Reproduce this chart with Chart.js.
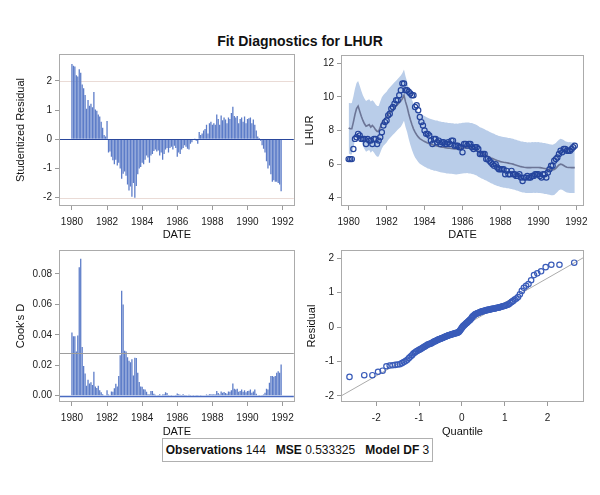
<!DOCTYPE html>
<html>
<head>
<meta charset="utf-8">
<script src="https://cdn.jsdelivr.net/npm/chart.js@4.4.1/dist/chart.umd.min.js"></script>
<style>
  body { margin: 0; background: #fff; font-family: "Liberation Sans", Arial, sans-serif; }
  #wrap { position: relative; width: 600px; height: 495px; }
  canvas { position: absolute; }
  #title { position: absolute; left: 0; top: 33px; width: 600px; text-align: center; font-weight: bold; font-size: 14px; color: #111; }
  #foot { position: absolute; left: 162px; top: 438px; width: 269px; height: 22px; border: 1px solid #b0b0b0;
          font-size: 12px; line-height: 22px; text-align: center; color: #111; white-space: nowrap; background: #fff; }
</style>
</head>
<body>
<div id="wrap">
  <div id="title">Fit Diagnostics for LHUR</div>
  <canvas id="c1" width="300" height="200" style="left:0;top:45px"></canvas>
  <canvas id="c2" width="300" height="200" style="left:300px;top:45px"></canvas>
  <canvas id="c3" width="300" height="200" style="left:0;top:241px"></canvas>
  <canvas id="c4" width="300" height="200" style="left:300px;top:241px"></canvas>
  <div id="foot"><b>Observations</b> 144&nbsp;&nbsp; <b>MSE</b> 0.533325&nbsp;&nbsp; <b>Model DF</b> 3</div>
</div>
<script>
// valores mensais, jan/1980 a dez/1991
const years = [1980, 1981, 1982, 1983, 1984, 1985, 1986, 1987, 1988, 1989, 1990, 1991];

const studRes = [
  2.58, 2.52, 2.50, 2.20, 2.15, 2.40, 2.28, 1.88, 1.75, 1.52, 1.05, 1.35,
  1.15, 1.22, 1.10, 1.62, 1.02, 0.98, 0.85, 0.78, 0.60, 0.40, 0.15, 0.10,
  0.63, -0.45, -0.42, -0.60, -0.72, -0.85, -0.70, -0.90, -0.80, -1.00, -1.35, -1.18,
  -1.10, -1.25, -1.55, -1.75, -1.62, -1.97, -1.50, -2.00, -1.60, -1.20, -1.00, -0.95,
  -0.80, -0.85, -0.70, -0.55, -0.62, -0.80, -0.55, -0.50, -0.40, -0.35, -0.42, -0.38,
  -0.55, -0.45, -0.70, -0.50, -0.35, -0.30, -0.45, -0.30, -0.25, -0.35, -0.22, -0.30,
  -0.60, -0.45, -0.50, -0.35, -0.30, -0.20, -0.25, -0.32, -0.35, -0.15, -0.10, 0.02,
  0.03, -0.05, -0.15, 0.25, 0.15, 0.20, 0.30, 0.35, 0.50, 0.20, 0.55, 0.60,
  0.50, 0.55, 0.50, 0.85, 0.70, 0.50, 0.82, 0.65, 0.75, 0.68, 0.55, 0.75,
  0.70, 0.90, 1.12, 0.80, 0.75, 0.80, 0.55, 0.70, 0.75, 0.60, 0.78, 0.55,
  0.70, 0.72, 0.75, 0.55, 0.68, 0.50, 0.30, 0.10, 0.05, -0.05, -0.20, -0.32,
  -0.45, -0.75, -1.00, -0.90, -1.20, -1.45, -1.40, -1.45, -1.45, -1.50, -1.55, -1.78
];

const lhur = [
  6.3, 6.3, 6.3, 6.9, 7.5, 7.6, 7.8, 7.7, 7.5, 7.5, 7.5, 7.2,
  7.5, 7.4, 7.4, 7.2, 7.5, 7.5, 7.2, 7.4, 7.6, 7.9, 8.3, 8.5,
  8.6, 8.9, 9.0, 9.3, 9.4, 9.6, 9.8, 9.8, 10.1, 10.4, 10.8, 10.8,
  10.4, 10.4, 10.3, 10.2, 10.1, 10.1, 9.4, 9.5, 9.2, 8.8, 8.5, 8.3,
  8.0, 7.8, 7.8, 7.7, 7.4, 7.2, 7.5, 7.5, 7.3, 7.4, 7.2, 7.3,
  7.3, 7.2, 7.2, 7.3, 7.2, 7.4, 7.4, 7.1, 7.1, 7.1, 7.0, 7.0,
  6.7, 7.2, 7.2, 7.1, 7.2, 7.2, 7.0, 6.9, 7.0, 7.0, 6.9, 6.6,
  6.6, 6.6, 6.6, 6.3, 6.3, 6.2, 6.1, 6.0, 5.9, 6.0, 5.8, 5.7,
  5.7, 5.7, 5.7, 5.4, 5.6, 5.4, 5.4, 5.6, 5.4, 5.4, 5.3, 5.3,
  5.4, 5.2, 5.0, 5.2, 5.2, 5.3, 5.2, 5.2, 5.3, 5.3, 5.4, 5.4,
  5.4, 5.3, 5.2, 5.4, 5.4, 5.2, 5.5, 5.7, 5.9, 5.9, 6.2, 6.3,
  6.4, 6.6, 6.8, 6.7, 6.9, 6.9, 6.8, 6.8, 6.8, 6.9, 7.0, 7.1
];

const predicted = [
  8.15, 8.10, 8.10, 8.50, 8.95, 9.30, 9.45, 9.15, 8.85, 8.60, 8.40, 8.25,
  8.30, 8.35, 8.20, 8.30, 8.20, 8.05, 7.95, 7.95, 8.20, 8.45, 8.60, 8.70,
  8.80, 8.95, 9.05, 9.15, 9.25, 9.35, 9.45, 9.55, 9.65, 9.75, 9.90, 10.10,
  9.70, 9.40, 9.00, 8.65, 8.35, 8.10, 7.90, 7.75, 7.62, 7.52, 7.46, 7.40,
  7.35, 7.30, 7.25, 7.22, 7.18, 7.15, 7.12, 7.10, 7.08, 7.05, 7.03, 7.00,
  7.00, 6.98, 6.96, 6.95, 6.94, 6.93, 6.92, 6.90, 6.90, 6.90, 6.92, 6.93,
  6.95, 6.96, 6.97, 6.97, 6.96, 6.95, 6.93, 6.90, 6.86, 6.82, 6.76, 6.70,
  6.66, 6.62, 6.57, 6.52, 6.47, 6.42, 6.37, 6.33, 6.29, 6.25, 6.21, 6.18,
  6.15, 6.13, 6.11, 6.10, 6.08, 6.06, 6.04, 6.02, 6.00, 5.97, 5.94, 5.91,
  5.88, 5.85, 5.83, 5.81, 5.80, 5.79, 5.79, 5.79, 5.80, 5.80, 5.80, 5.80,
  5.80, 5.79, 5.78, 5.76, 5.74, 5.72, 5.70, 5.68, 5.66, 5.65, 5.68, 5.75,
  5.85, 5.95, 6.00, 5.98, 5.92, 5.86, 5.82, 5.80, 5.80, 5.79, 5.79, 5.79
];

const upperCL = [
  9.65, 9.62, 9.63, 10.02, 10.48, 10.82, 10.95, 10.66, 10.36, 10.10, 9.90, 9.76,
  9.81, 9.86, 9.72, 9.80, 9.71, 9.56, 9.46, 9.45, 9.72, 9.97, 10.11, 10.22,
  10.31, 10.46, 10.56, 10.66, 10.76, 10.87, 10.96, 11.06, 11.16, 11.27, 11.42, 11.62,
  11.21, 10.90, 10.50, 10.14, 9.84, 9.60, 9.40, 9.24, 9.12, 9.02, 8.96, 8.90,
  8.86, 8.80, 8.76, 8.72, 8.69, 8.65, 8.63, 8.60, 8.59, 8.55, 8.54, 8.50,
  8.51, 8.48, 8.47, 8.45, 8.45, 8.43, 8.43, 8.40, 8.41, 8.40, 8.43, 8.43,
  8.46, 8.46, 8.48, 8.47, 8.47, 8.45, 8.44, 8.40, 8.37, 8.32, 8.27, 8.20,
  8.17, 8.12, 8.08, 8.02, 7.98, 7.92, 7.88, 7.83, 7.80, 7.75, 7.72, 7.68,
  7.66, 7.63, 7.62, 7.60, 7.59, 7.56, 7.55, 7.52, 7.51, 7.47, 7.45, 7.41,
  7.39, 7.35, 7.34, 7.31, 7.31, 7.29, 7.30, 7.29, 7.31, 7.30, 7.31, 7.30,
  7.31, 7.29, 7.29, 7.26, 7.25, 7.22, 7.21, 7.18, 7.17, 7.15, 7.19, 7.25,
  7.36, 7.45, 7.51, 7.48, 7.43, 7.36, 7.33, 7.30, 7.31, 7.29, 7.30, 7.29
];

const lowerCL = [
  6.65, 6.58, 6.57, 6.98, 7.42, 7.78, 7.95, 7.64, 7.34, 7.10, 6.90, 6.74,
  6.79, 6.84, 6.68, 6.80, 6.69, 6.54, 6.44, 6.45, 6.68, 6.93, 7.09, 7.18,
  7.29, 7.44, 7.54, 7.64, 7.74, 7.83, 7.94, 8.04, 8.14, 8.23, 8.38, 8.58,
  8.19, 7.90, 7.50, 7.16, 6.86, 6.60, 6.40, 6.26, 6.12, 6.02, 5.96, 5.90,
  5.84, 5.80, 5.74, 5.72, 5.67, 5.65, 5.61, 5.60, 5.57, 5.55, 5.52, 5.50,
  5.49, 5.48, 5.45, 5.45, 5.43, 5.43, 5.41, 5.40, 5.39, 5.40, 5.41, 5.43,
  5.44, 5.46, 5.46, 5.47, 5.45, 5.45, 5.42, 5.40, 5.35, 5.32, 5.25, 5.20,
  5.15, 5.12, 5.06, 5.02, 4.96, 4.92, 4.86, 4.83, 4.78, 4.75, 4.70, 4.68,
  4.64, 4.63, 4.60, 4.60, 4.57, 4.56, 4.53, 4.52, 4.49, 4.47, 4.43, 4.41,
  4.37, 4.35, 4.32, 4.31, 4.29, 4.29, 4.28, 4.29, 4.29, 4.30, 4.29, 4.30,
  4.29, 4.29, 4.27, 4.26, 4.23, 4.22, 4.19, 4.18, 4.15, 4.15, 4.17, 4.25,
  4.34, 4.45, 4.49, 4.48, 4.41, 4.36, 4.31, 4.30, 4.29, 4.29, 4.28, 4.29
];

const cooksD = [
  0.0415, 0.0390, 0.0390, 0.0290, 0.0395, 0.0845, 0.0900, 0.0320, 0.0195, 0.0145, 0.0065, 0.0105,
  0.0080, 0.0088, 0.0070, 0.0158, 0.0060, 0.0050, 0.0065, 0.0035, 0.0022, 0.0010, 0.0002, 0.0003,
  0.0035, 0.0008, 0.0003, 0.0028, 0.0025, 0.0048, 0.0078, 0.0060, 0.0130, 0.0265, 0.0690, 0.0600,
  0.0295, 0.0290, 0.0252, 0.0230, 0.0220, 0.0240, 0.0132, 0.0250, 0.0248, 0.0150, 0.0090, 0.0060,
  0.0058, 0.0042, 0.0040, 0.0025, 0.0010, 0.0008, 0.0030, 0.0030, 0.0012, 0.0006, 0.0002, 0.0004,
  0.0010, 0.0003, 0.0008, 0.0010, 0.0022, 0.0018, 0.0005, 0.0002, 0.0001, 0.0003, 0.0002, 0.0004,
  0.0015, 0.0010, 0.0006, 0.0004, 0.0010, 0.0004, 0.0001, 0.0002, 0.0006, 0.0001, 0.0000, 0.0001,
  0.0000, 0.0001, 0.0004, 0.0002, 0.0001, 0.0002, 0.0003, 0.0002, 0.0008, 0.0001, 0.0010, 0.0010,
  0.0008, 0.0010, 0.0008, 0.0030, 0.0018, 0.0008, 0.0028, 0.0020, 0.0024, 0.0018, 0.0012, 0.0028,
  0.0025, 0.0035, 0.0080, 0.0045, 0.0040, 0.0045, 0.0025, 0.0030, 0.0040, 0.0025, 0.0035, 0.0022,
  0.0030, 0.0032, 0.0040, 0.0020, 0.0028, 0.0040, 0.0012, 0.0002, 0.0001, 0.0000, 0.0004, 0.0008,
  0.0020, 0.0045, 0.0040, 0.0085, 0.0130, 0.0130, 0.0125, 0.0130, 0.0150, 0.0160, 0.0150, 0.0205
];
const cooksCutoff = 0.0278;

// quantis normais e resíduos ordenados (gráfico Q-Q)
const qqQuantile = [
  -2.625, -2.28, -2.09, -1.958, -1.851, -1.762, -1.686, -1.618, -1.557, -1.501, -1.449, -1.401,
  -1.356, -1.314, -1.274, -1.235, -1.199, -1.164, -1.131, -1.098, -1.067, -1.037, -1.007, -0.979,
  -0.951, -0.925, -0.898, -0.872, -0.847, -0.822, -0.799, -0.775, -0.751, -0.729, -0.706, -0.684,
  -0.662, -0.641, -0.619, -0.599, -0.578, -0.558, -0.538, -0.518, -0.498, -0.478, -0.459, -0.440,
  -0.420, -0.402, -0.383, -0.364, -0.346, -0.327, -0.309, -0.291, -0.273, -0.255, -0.237, -0.219,
  -0.201, -0.184, -0.166, -0.148, -0.131, -0.113, -0.096, -0.078, -0.061, -0.043, -0.026, -0.009,
  0.009, 0.026, 0.043, 0.061, 0.078, 0.096, 0.113, 0.131, 0.148, 0.166, 0.184, 0.201,
  0.219, 0.237, 0.255, 0.273, 0.291, 0.309, 0.327, 0.346, 0.364, 0.383, 0.402, 0.420,
  0.440, 0.459, 0.478, 0.498, 0.518, 0.538, 0.558, 0.578, 0.599, 0.619, 0.641, 0.662,
  0.684, 0.706, 0.729, 0.751, 0.775, 0.799, 0.822, 0.847, 0.872, 0.898, 0.925, 0.951,
  0.979, 1.007, 1.037, 1.067, 1.098, 1.131, 1.164, 1.199, 1.235, 1.274, 1.314, 1.356,
  1.401, 1.449, 1.501, 1.557, 1.618, 1.686, 1.762, 1.851, 1.958, 2.09, 2.28, 2.625
];
const qqResidual = [
  -1.45, -1.40, -1.40, -1.30, -1.27, -1.14, -1.12, -1.11, -1.10, -1.09, -1.08, -1.05,
  -1.02, -0.99, -0.95, -0.90, -0.86, -0.82, -0.77, -0.74, -0.71, -0.69, -0.67, -0.65,
  -0.63, -0.61, -0.59, -0.57, -0.55, -0.53, -0.51, -0.50, -0.49, -0.48, -0.47, -0.45,
  -0.43, -0.42, -0.41, -0.40, -0.38, -0.37, -0.36, -0.35, -0.34, -0.33, -0.32, -0.31,
  -0.30, -0.29, -0.28, -0.27, -0.26, -0.25, -0.24, -0.23, -0.23, -0.22, -0.21, -0.21,
  -0.20, -0.19, -0.19, -0.18, -0.17, -0.17, -0.16, -0.15, -0.13, -0.10, -0.07, -0.04,
  -0.01, 0.02, 0.04, 0.06, 0.08, 0.10, 0.12, 0.14, 0.16, 0.18, 0.20, 0.22,
  0.25, 0.28, 0.31, 0.33, 0.35, 0.37, 0.38, 0.39, 0.40, 0.41, 0.42, 0.43,
  0.44, 0.45, 0.46, 0.46, 0.47, 0.48, 0.48, 0.49, 0.50, 0.50, 0.51, 0.51,
  0.52, 0.53, 0.53, 0.54, 0.54, 0.55, 0.56, 0.56, 0.57, 0.58, 0.59, 0.60,
  0.61, 0.62, 0.63, 0.65, 0.66, 0.70, 0.73, 0.76, 0.80, 0.83, 0.87, 0.95,
  1.05, 1.14, 1.20, 1.25, 1.36, 1.51, 1.56, 1.62, 1.74, 1.81, 1.81, 1.87
];
const qqSlope = 0.71;
const qqIntercept = 0;

// datas mensais
const dates = [];
years.forEach(y => { for (let m = 0; m < 12; m++) dates.push(y + m / 12); });
const pts = arr => arr.map((v, i) => ({ x: dates[i], y: v }));

Chart.defaults.font.family = "'Liberation Sans', Arial, sans-serif";

function hLine(ctx, a, py, l) {
  py = Math.round(py) + 0.5;
  ctx.strokeStyle = l.color;
  ctx.lineWidth = l.width || 1;
  ctx.beginPath(); ctx.moveTo(a.left, py); ctx.lineTo(a.right, py); ctx.stroke();
}

// linhas de referência + moldura
const framePlugin = {
  id: 'frame',
  beforeDatasetsDraw(chart, args, opts) {
    const { ctx, chartArea: a, scales } = chart;
    ctx.save();
    (opts.under || []).forEach(l => hLine(ctx, a, scales.y.getPixelForValue(l.value), l));
    if (opts.fit) {
      const x = scales.x, y = scales.y, f = opts.fit;
      ctx.beginPath(); ctx.rect(a.left, a.top, a.right - a.left, a.bottom - a.top); ctx.clip();
      ctx.strokeStyle = f.color; ctx.lineWidth = 1;
      ctx.beginPath();
      ctx.moveTo(x.getPixelForValue(x.min), y.getPixelForValue(f.intercept + f.slope * x.min));
      ctx.lineTo(x.getPixelForValue(x.max), y.getPixelForValue(f.intercept + f.slope * x.max));
      ctx.stroke();
    }
    ctx.restore();
  },
  afterDatasetsDraw(chart, args, opts) {
    const { ctx, chartArea: a, scales } = chart;
    ctx.save();
    (opts.over || []).forEach(l => hLine(ctx, a, scales.y.getPixelForValue(l.value), l));
    ctx.strokeStyle = '#ababab';
    ctx.lineWidth = 1;
    ctx.strokeRect(Math.round(a.left) - 0.5, Math.round(a.top) - 0.5,
                   Math.round(a.right - a.left) + 1, Math.round(a.bottom - a.top) + 1);
    ctx.restore();
  }
};

function axis(min, max, step, size, title, horizontal, fmt) {
  return {
    type: 'linear', min: min, max: max, offset: false,
    ticks: { stepSize: step, includeBounds: false, autoSkip: false, maxRotation: 0,
             color: '#222', font: { size: 10 }, padding: horizontal ? 6 : 3,
             callback: fmt || (v => String(v)) },
    grid: { drawOnChartArea: false, drawTicks: true, tickLength: 5, color: '#9a9a9a', offset: false },
    border: { display: false },
    title: { display: true, text: title, color: '#111', font: { size: 11 }, padding: 0 },
    afterFit: s => { if (horizontal) s.height = size; else s.width = size; }
  };
}

function baseOptions(pad, scales, frame) {
  return {
    responsive: false, animation: false, devicePixelRatio: 1,
    layout: { padding: pad },
    scales: scales,
    plugins: { legend: { display: false }, tooltip: { enabled: false }, frame: frame }
  };
}

// 1: resíduo studentizado
new Chart(document.getElementById('c1'), {
  type: 'bar',
  data: { datasets: [{ data: pts(studRes), backgroundColor: '#5c7cc8', barPercentage: 1, categoryPercentage: 0.88 }] },
  options: baseOptions({ left: 14.4, right: 6, top: 10, bottom: 3.4 }, {
    x: axis(1979.32, 1992.64, 2, 36.6, 'DATE', true),
    y: axis(-2.25, 2.89, 1, 45.6, 'Studentized Residual', false)
  }, {
    under: [{ value: 2, color: '#eadbd6' }, { value: -2, color: '#eadbd6' }],
    over: [{ value: 0, color: '#2a489c' }]
  }),
  plugins: [framePlugin]
});

// 2: LHUR observado, previsto e limites
new Chart(document.getElementById('c2'), {
  type: 'line',
  data: { datasets: [
    { data: pts(lhur), showLine: false, pointRadius: 2.6, pointBorderWidth: 1.2,
      pointBorderColor: '#24449c', pointBackgroundColor: 'rgba(0,0,0,0)' },
    { data: pts(predicted), borderColor: '#6c7596', borderWidth: 1.6, pointRadius: 0, fill: false },
    { data: pts(upperCL), borderColor: 'rgba(0,0,0,0)', borderWidth: 0, pointRadius: 0,
      fill: '+1', backgroundColor: '#b9cde9' },
    { data: pts(lowerCL), borderColor: 'rgba(0,0,0,0)', borderWidth: 0, pointRadius: 0, fill: false }
  ] },
  options: baseOptions({ left: 3.4, right: 17, top: 11, bottom: 3.4 }, {
    x: axis(1979.65, 1992.35, 2, 36.6, 'DATE', true),
    y: axis(3.57, 12.43, 2, 38.6, 'LHUR', false)
  }, {}),
  plugins: [framePlugin]
});

// 3: Cook's D
new Chart(document.getElementById('c3'), {
  type: 'bar',
  data: { datasets: [{ data: pts(cooksD), backgroundColor: '#5c7cc8', barPercentage: 1, categoryPercentage: 0.88 }] },
  options: baseOptions({ left: 14.1, right: 6, top: 10, bottom: 2.7 }, {
    x: axis(1979.32, 1992.64, 2, 37.3, 'DATE', true),
    y: axis(-0.0035, 0.0951, 0.02, 45.9, "Cook's D", false, v => v.toFixed(2))
  }, {
    over: [{ value: cooksCutoff, color: '#9d9d9d' }, { value: 0, color: '#4a6bc1', width: 1.5 }]
  }),
  plugins: [framePlugin]
});

// 4: Q-Q dos resíduos
new Chart(document.getElementById('c4'), {
  type: 'scatter',
  data: { datasets: [{ data: qqQuantile.map((q, i) => ({ x: q, y: qqResidual[i] })),
    pointRadius: 2.7, pointBorderWidth: 1.2, pointBorderColor: '#3a5cb9', pointBackgroundColor: 'rgba(0,0,0,0)' }] },
  options: baseOptions({ left: 5.1, right: 17, top: 10, bottom: 2.7 }, {
    x: axis(-2.80, 2.83, 1, 37.3, 'Quantile', true),
    y: axis(-2.15, 2.21, 1, 36.9, 'Residual', false)
  }, {
    fit: { slope: qqSlope, intercept: qqIntercept, color: '#ababab' }
  }),
  plugins: [framePlugin]
});
</script>
</body>
</html>
